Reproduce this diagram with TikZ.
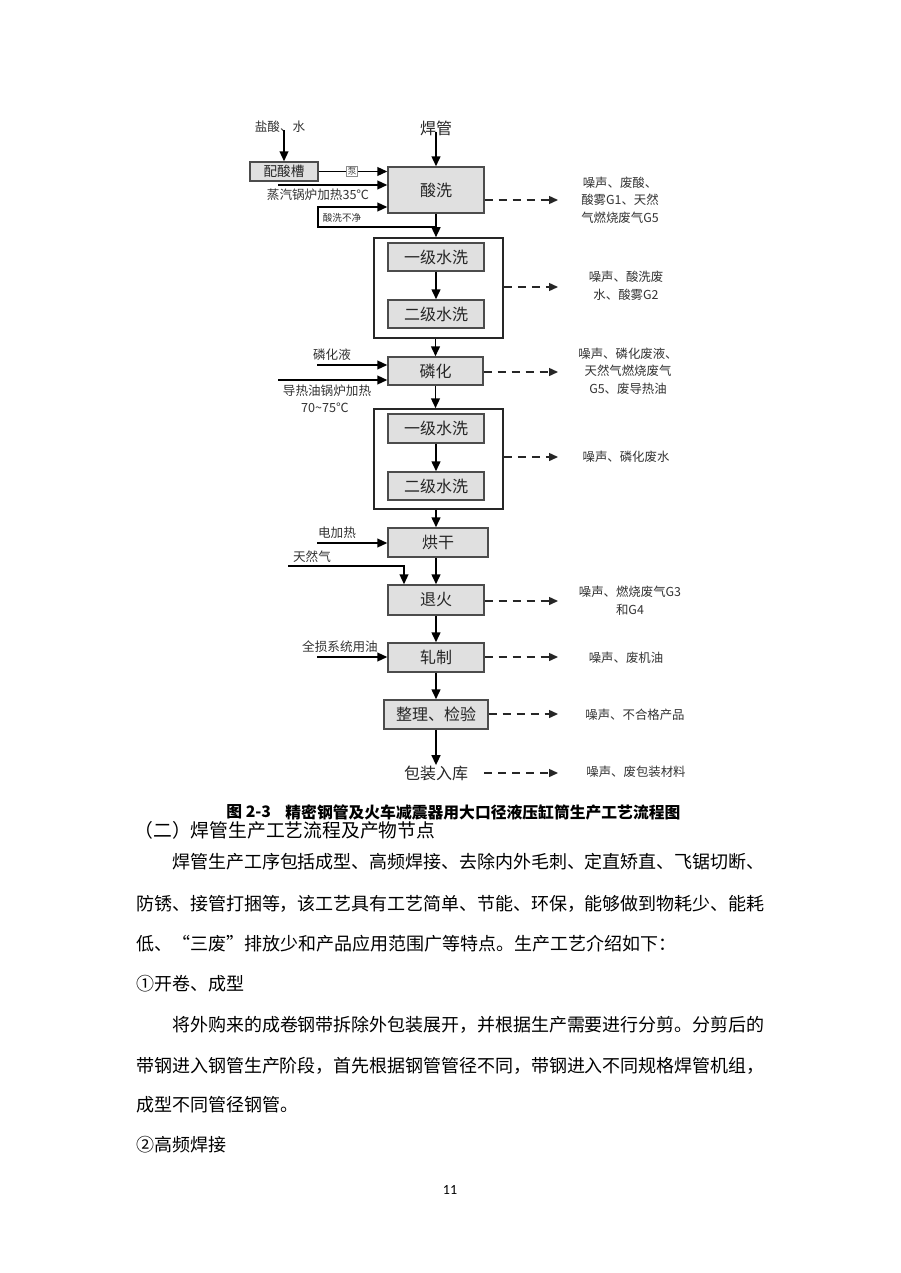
\documentclass[tikz,border=0pt]{standalone}
\usepackage{fontspec}
\setmainfont{Noto Sans CJK SC}
\newfontfamily\carl{Carlito}
\usetikzlibrary{arrows.meta}
\def\jspread#1{\ifx#1\relax\else#1\hskip 0pt plus 1fil minus 0.6pt\expandafter\jspread\fi}
\newcommand\jline[2]{\hbox to #1{\jspread#2\relax\unskip}}
\begin{document}
\begin{tikzpicture}[x=0.5pt,y=-0.5pt,
  box/.style={draw=black!70, fill=black!12, line width=0.7pt, inner sep=0pt, font=\fontsize{8}{9}\selectfont, text=black!85},
  grp/.style={draw=black!85, line width=0.75pt, inner sep=0pt},
  flowarr/.style={line width=0.95pt, -{Triangle[length=5pt,width=4.4pt]}},
  feedarr/.style={line width=0.8pt, -{Triangle[length=5pt,width=4.4pt]}},
  feedline/.style={line width=0.8pt},
  dashout/.style={line width=0.7pt, black!85, dash pattern=on 4pt off 3pt, -{Triangle[length=4.5pt,width=4pt]}},
  rlab/.style={font=\fontsize{6.2}{8.75}\selectfont, text=black!80, align=center, inner sep=0pt},
  llab/.style={font=\fontsize{6.3}{8}\selectfont, text=black!80, inner sep=0pt},
  tlab/.style={font=\fontsize{4.8}{6}\selectfont, text=black!80, inner sep=0pt},
  body/.style={font=\fontsize{9}{10}\selectfont, anchor=west, inner sep=0pt},
]
\fill[white] (0,0) rectangle (900,1273);
\useasboundingbox (0,0) rectangle (900,1273);

% --- top inputs
\node[llab] (yansui) at (280,127) {盐酸、水};
\node[box, minimum width=34pt, minimum height=9.5pt, font=\fontsize{6.8}{8}\selectfont] (peisuan) at (284,171.5) {配酸槽};
\node[font=\fontsize{8}{9}\selectfont, text=black!85, inner sep=0pt] (hanguan) at (436,128) {焊管};

% --- main boxes
\node[box, minimum width=48pt, minimum height=23pt] (suanxi) at (436,190) {酸洗};
\node[grp, minimum width=64.5pt, minimum height=50pt] (g1) at (438.5,288) {};
\node[box, minimum width=48pt, minimum height=14pt] (s1a) at (436,257) {一级水洗};
\node[box, minimum width=48pt, minimum height=14pt] (s1b) at (436,314) {二级水洗};
\node[box, minimum width=47.5pt, minimum height=14pt] (linhua) at (435.5,371) {磷化};
\node[grp, minimum width=64.5pt, minimum height=50pt] (g2) at (438.5,459) {};
\node[box, minimum width=48pt, minimum height=14.5pt] (s2a) at (436,428.5) {一级水洗};
\node[box, minimum width=48pt, minimum height=14pt] (s2b) at (436,486) {二级水洗};
\node[box, minimum width=50pt, minimum height=14.5pt] (honggan) at (438,542.5) {烘干};
\node[box, minimum width=48pt, minimum height=15pt] (tuihuo) at (436,600) {退火};
\node[box, minimum width=48pt, minimum height=14.5pt] (zhazhi) at (436,657.5) {轧制};
\node[box, minimum width=52pt, minimum height=14.5pt] (zhengli) at (436,714.5) {整理、检验};
\node[font=\fontsize{8}{9}\selectfont, text=black!85, inner sep=0pt] (baozhuang) at (436,773) {包装入库};

% --- main flow
\draw[feedarr] (peisuan.north |- yansui.south) ++(0,-3) -- (peisuan.north);
\draw[flowarr] (hanguan.south) ++(0,-4) -- (suanxi.north);
\draw[flowarr] (suanxi.south) -- (suanxi.south |- g1.north);
\draw[flowarr] (s1a.south) -- (s1b.north);
\draw[flowarr] (linhua.north |- g1.south) -- (linhua.north);
\draw[flowarr] (linhua.south) -- (linhua.south |- g2.north);
\draw[flowarr] (s2a.south) -- (s2b.north);
\draw[flowarr] (tuihuo.north |- g2.south) -- (tuihuo.north |- honggan.north);
\draw[flowarr] (tuihuo.north |- honggan.south) -- (tuihuo.north);
\draw[flowarr] (tuihuo.south) -- (zhazhi.north);
\draw[flowarr] (zhazhi.south) -- (zhengli.north);
\draw[flowarr] (zhengli.south) -- (zhengli.south |- baozhuang.north);

% --- feeds into 酸洗
\node[draw=black!45, fill=white, line width=0.3pt, inner sep=0.6pt, font=\fontsize{4.5}{5}\selectfont, text=black!70] (beng) at (352,171.5) {泵};
\draw[feedline] (peisuan.east) -- (beng.west);
\draw[feedarr] (beng.east) -- (suanxi.west |- beng.east);
\coordinate (steam) at (278,185);
\draw[feedarr] (steam) -- (suanxi.west |- steam);
\node[llab] (steamlab) at (318,195) {蒸汽锅炉加热35℃};
\coordinate (loopA) at (436,227);
\coordinate (loopB) at (318,227);
\coordinate (loopC) at (318,207);
\draw[feedarr] (loopA) -- (loopB) -- (loopC) -- (suanxi.west |- loopC);
\node[tlab] (buqing) at (342,218) {酸洗不净};

% --- feeds into 磷化
\coordinate (lhy) at (317,365);
\draw[feedarr] (lhy) -- (linhua.west |- lhy);
\node[llab] (lhylab) at (332,355) {磷化液};
\coordinate (drf) at (278,380);
\draw[feedarr] (drf) -- (linhua.west |- drf);
\node[llab] (drflab) at (327,391) {导热油锅炉加热};
\node[llab] (drflab2) at (325,408) {70{\char`\~}75℃};

% --- feeds into 烘干 / 退火 / 轧制
\coordinate (djr) at (317,543);
\draw[feedarr] (djr) -- (honggan.west |- djr);
\node[llab] (djrlab) at (337,533) {电加热};
\coordinate (trq) at (288,566);
\coordinate (trq2) at (404,566);
\draw[feedarr] (trq) -- (trq2) -- (trq2 |- tuihuo.north);
\node[llab] (trqlab) at (312,557) {天然气};
\coordinate (qsy) at (317,657);
\draw[feedarr] (qsy) -- (zhazhi.west |- qsy);
\node[llab] (qsylab) at (340,647) {全损系统用油};

% --- waste outputs
\coordinate (o1) at (558,200);
\coordinate (o2) at (558,287);
\coordinate (o3) at (558,372);
\coordinate (o4) at (558,457);
\coordinate (o5) at (558,601);
\coordinate (o6) at (558,657);
\coordinate (o7) at (558,714);
\coordinate (o8) at (558,773);
\draw[dashout] (suanxi.east |- o1) -- (o1);
\draw[dashout] (g1.east |- o2) -- (o2);
\draw[dashout] (linhua.east |- o3) -- (o3);
\draw[dashout] (g2.east |- o4) -- (o4);
\draw[dashout] (tuihuo.east |- o5) -- (o5);
\draw[dashout] (zhazhi.east |- o6) -- (o6);
\draw[dashout] (zhengli.east |- o7) -- (o7);
\draw[dashout] ([xshift=8pt]baozhuang.east) -- (o8);

\node[rlab] (r1) at (620,200) {噪声、废酸、\\酸雾G1、天然\\气燃烧废气G5};
\node[rlab] (r2) at (626,286) {噪声、酸洗废\\水、酸雾G2};
\node[rlab] (r3) at (628,371) {噪声、磷化废液、\\天然气燃烧废气\\G5、废导热油};
\node[rlab] (r4) at (626,457) {噪声、磷化废水};
\node[rlab] (r5) at (630,600.5) {噪声、燃烧废气G3\\和G4};
\node[rlab] (r6) at (626,658) {噪声、废机油};
\node[rlab] (r7) at (635,715) {噪声、不合格产品};
\node[rlab] (r8) at (636,772) {噪声、废包装材料};

% --- caption
\node[anchor=west, inner sep=0pt, font=\fontsize{7.9}{9}\selectfont\bfseries] (cap1) at (226,812) {图 2-3};
\node[anchor=west, inner sep=0pt, font=\fontsize{7.9}{9}\selectfont\bfseries] (cap2) at (285,812) {精密钢管及火车减震器用大口径液压缸筒生产工艺流程图};

% --- body text
\node[body, font=\fontsize{9.4}{10}\selectfont] (h2) at (134,830) {（二）焊管生产工艺流程及产物节点};
\node[body] (p1) at (172,862) {\jline{296pt}{焊管生产工序包括成型、高频焊接、去除内外毛刺、定直矫直、飞锯切断、}};
\node[body] (p2) at (136,904) {\jline{314pt}{防锈、接管打捆等，该工艺具有工艺简单、节能、环保，能够做到物耗少、能耗}};
\node[body] (p3) at (136,944) {低、“三废”排放少和产品应用范围广等特点。生产工艺介绍如下：};
\node[body] (p4) at (136,984) {①开卷、成型};
\node[body] (p5) at (172,1025) {\jline{296pt}{将外购来的成卷钢带拆除外包装展开，并根据生产需要进行分剪。分剪后的}};
\node[body] (p6) at (136,1066) {\jline{314pt}{带钢进入钢管生产阶段，首先根据钢管管径不同，带钢进入不同规格焊管机组，}};
\node[body] (p7) at (136,1105) {成型不同管径钢管。};
\node[body] (p8) at (136,1145) {②高频焊接};
\node[inner sep=0pt, font=\carl\fontsize{7}{8}\selectfont] (pnum) at (450,1190) {11};
\end{tikzpicture}
\end{document}
